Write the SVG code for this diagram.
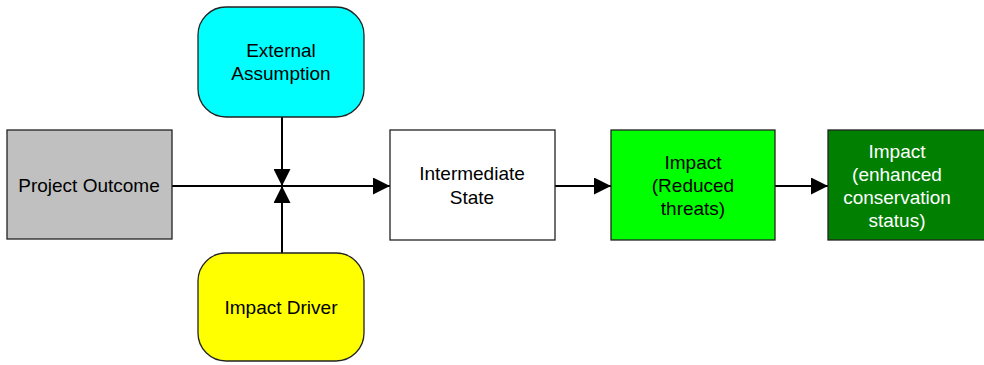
<svg xmlns="http://www.w3.org/2000/svg" width="984" height="365" viewBox="0 0 984 365">
  <style>
    .box { stroke: #222; stroke-width: 1.3; }
    .lbl { font-family: "Liberation Sans", Arial, sans-serif; font-size: 19px; text-anchor: middle; fill: #000; }
    .wht { fill: #fff; }
    .conn { stroke: #000; stroke-width: 2; fill: none; }
  </style>
  <defs>
    <marker id="arrowLg" viewBox="0 0 10 10" refX="10" refY="5" markerWidth="17" markerHeight="17" markerUnits="userSpaceOnUse" orient="auto">
      <path d="M0,0 L10,5 L0,10 Z" fill="#000"/>
    </marker>
  </defs>

  <rect width="984" height="365" fill="#fff"/>

  <g id="connectors">
    <line class="conn" x1="282" y1="117" x2="282" y2="186" marker-end="url(#arrowLg)"/>
    <line class="conn" x1="282" y1="253" x2="282" y2="186" marker-end="url(#arrowLg)"/>
    <line class="conn" x1="172" y1="186" x2="390" y2="186" marker-end="url(#arrowLg)"/>
    <line class="conn" x1="555" y1="186" x2="611" y2="186" marker-end="url(#arrowLg)"/>
    <line class="conn" x1="775" y1="186" x2="828" y2="186" marker-end="url(#arrowLg)"/>
  </g>

  <g id="external-assumption">
    <rect class="box" x="198" y="7" width="166" height="110" rx="28" ry="28" fill="#00ffff"/>
    <text class="lbl" x="281" y="57">External</text>
    <text class="lbl" x="281" y="80">Assumption</text>
  </g>

  <g id="project-outcome">
    <rect class="box" x="7" y="130" width="165" height="109" fill="#c0c0c0"/>
    <text class="lbl" x="89" y="192">Project Outcome</text>
  </g>

  <g id="impact-driver">
    <rect class="box" x="198" y="253" width="166" height="108" rx="28" ry="28" fill="#ffff00"/>
    <text class="lbl" x="281" y="314">Impact Driver</text>
  </g>

  <g id="intermediate-state">
    <rect class="box" x="390" y="130" width="165" height="110" fill="#fff"/>
    <text class="lbl" x="472" y="180">Intermediate</text>
    <text class="lbl" x="472" y="204">State</text>
  </g>

  <g id="impact-reduced-threats">
    <rect class="box" x="611" y="130" width="164" height="110" fill="#00ff00"/>
    <text class="lbl" x="693" y="169">Impact</text>
    <text class="lbl" x="693" y="192">(Reduced</text>
    <text class="lbl" x="693" y="215">threats)</text>
  </g>

  <g id="impact-conservation-status">
    <rect class="box" x="828" y="130" width="165" height="110" fill="#007f00"/>
    <text class="lbl wht" x="897" y="158">Impact</text>
    <text class="lbl wht" x="897" y="181">(enhanced</text>
    <text class="lbl wht" x="897" y="204">conservation</text>
    <text class="lbl wht" x="897" y="227">status)</text>
  </g>
</svg>
